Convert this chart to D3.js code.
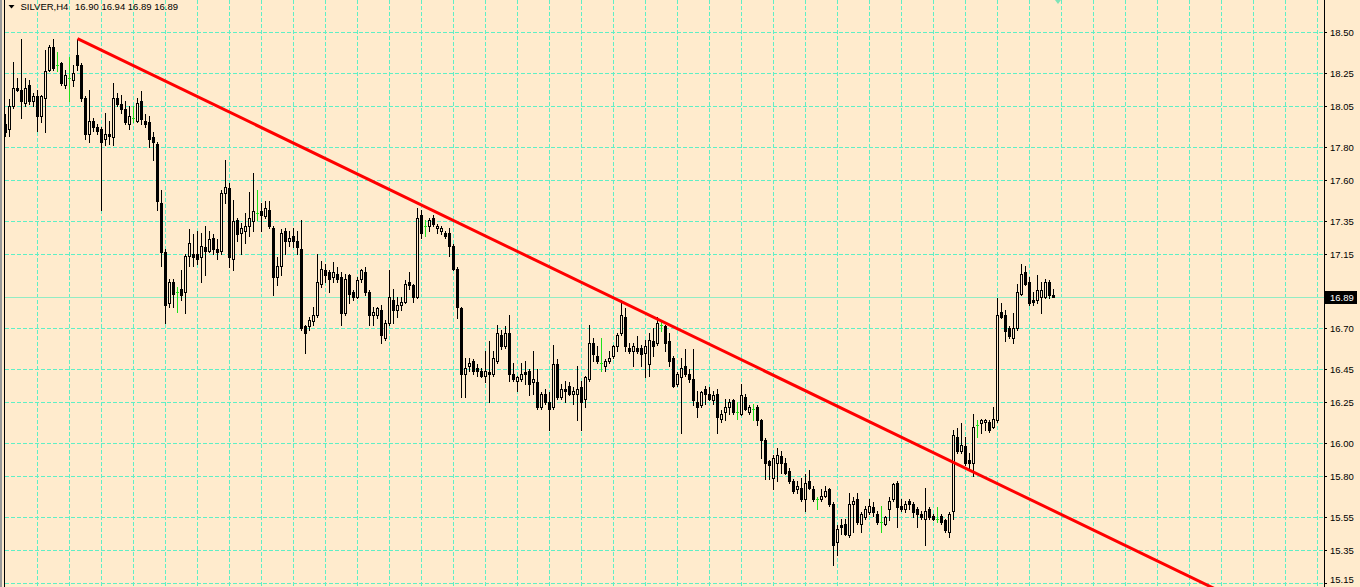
<!DOCTYPE html>
<html><head><meta charset="utf-8">
<script src="https://cdn.jsdelivr.net/npm/d3@7"></script>
<style>html,body{margin:0;padding:0;background:#FFEBCD;overflow:hidden}svg{display:block}</style>
</head><body><svg id="c" width="1360" height="587"></svg>
<script>
const symbol = "SILVER,H4";
const open = [
17.94,17.91,18.05,18.16,18.15,18.07,18.18,18.08,18.11,17.99,
18.10,18.27,18.41,18.30,18.31,18.18,18.22,18.21,18.36,18.30,
18.10,17.88,17.96,17.92,17.91,17.85,17.88,17.86,18.10,18.06,
18.03,17.94,17.98,17.96,18.08,17.96,17.95,17.86,17.82,17.46,
17.16,16.85,16.98,16.92,16.94,16.92,17.14,17.15,17.15,17.13,
17.19,17.17,17.25,17.18,17.17,17.52,17.55,17.12,17.36,17.28,
17.29,17.32,17.35,17.40,17.41,17.38,17.42,17.31,17.01,17.08,
17.29,17.23,17.26,17.23,17.18,16.71,16.71,16.74,16.78,16.97,
17.05,17.04,17.01,17.03,17.01,16.79,17.02,16.92,16.89,17.00,
17.04,16.92,16.78,16.78,16.81,16.64,16.73,16.87,16.81,16.84,
16.86,16.98,16.96,16.89,17.39,17.32,17.32,17.37,17.31,17.29,
17.28,17.28,17.20,17.06,16.82,16.42,16.47,16.50,16.46,16.44,
16.41,16.43,16.42,16.50,16.66,16.59,16.67,16.42,16.38,16.39,
16.43,16.44,16.37,16.37,16.22,16.30,16.25,16.22,16.48,16.28,
16.33,16.35,16.30,16.30,16.34,16.27,16.39,16.61,16.53,16.49,
16.47,16.50,16.53,16.59,16.67,16.77,16.58,16.56,16.58,16.58,
16.55,16.48,16.62,16.61,16.72,16.71,16.62,16.52,16.36,16.40,
16.47,16.42,16.39,16.25,16.23,16.33,16.30,16.26,16.30,16.15,
16.19,16.22,16.26,16.19,16.18,16.28,16.19,16.21,16.22,16.14,
16.02,15.89,15.79,15.88,15.92,15.88,15.83,15.77,15.72,15.73,
15.66,15.77,15.72,15.66,15.66,15.68,15.72,15.63,15.40,15.50,
15.51,15.44,15.63,15.66,15.51,15.55,15.58,15.61,15.57,15.52,
15.51,15.60,15.66,15.76,15.62,15.60,15.65,15.63,15.60,15.57,
15.54,15.60,15.56,15.54,15.56,15.53,15.46,15.59,16.04,15.95,
15.98,15.90,15.88,16.11,16.12,16.13,16.13,16.10,16.14,16.80,
16.78,16.70,16.64,16.70,16.91,17.04,16.98,16.87,16.87,16.89,
16.89,16.98,16.90];
const high = [
18.00,18.09,18.32,18.22,18.46,18.22,18.21,18.13,18.15,18.12,
18.39,18.42,18.46,18.38,18.32,18.27,18.35,18.30,18.46,18.31,
18.11,18.15,17.98,17.94,17.92,18.01,17.96,18.19,18.13,18.12,
18.08,18.05,18.05,18.10,18.14,18.00,17.99,17.89,17.83,17.54,
17.18,17.00,17.00,16.95,17.05,17.15,17.30,17.27,17.29,17.28,
17.32,17.29,17.27,17.24,17.54,17.72,17.58,17.48,17.37,17.34,
17.40,17.53,17.64,17.54,17.46,17.47,17.47,17.32,17.13,17.30,
17.31,17.29,17.31,17.29,17.36,16.72,16.77,16.83,17.15,17.11,
17.09,17.05,17.10,17.07,17.04,17.03,17.03,16.93,17.01,17.06,
17.07,16.93,16.83,16.83,16.84,16.75,17.05,16.94,16.89,16.89,
16.99,17.04,16.97,17.43,17.42,17.36,17.37,17.39,17.33,17.32,
17.29,17.31,17.21,17.07,16.83,16.52,16.52,16.51,16.48,16.46,
16.56,16.62,16.56,16.72,16.69,16.71,16.78,16.49,16.41,16.49,
16.50,16.45,16.56,16.45,16.31,16.33,16.31,16.60,16.51,16.36,
16.38,16.37,16.34,16.47,16.38,16.41,16.72,16.64,16.59,16.64,
16.51,16.56,16.60,16.67,16.87,16.82,16.61,16.61,16.65,16.60,
16.63,16.67,16.70,16.77,16.75,16.72,16.67,16.53,16.43,16.52,
16.57,16.45,16.57,16.32,16.32,16.35,16.34,16.32,16.33,16.20,
16.27,16.27,16.27,16.25,16.36,16.30,16.23,16.24,16.23,16.15,
16.03,15.90,15.93,15.97,15.95,15.91,15.85,15.78,15.77,15.79,
15.81,15.84,15.74,15.67,15.72,15.74,15.73,15.64,15.50,15.54,
15.54,15.70,15.67,15.70,15.58,15.62,15.66,15.64,15.59,15.62,
15.56,15.67,15.76,15.77,15.66,15.65,15.66,15.64,15.61,15.59,
15.73,15.61,15.57,15.61,15.57,15.54,15.58,16.08,16.09,16.12,
16.04,15.94,16.18,16.14,16.15,16.15,16.14,16.22,16.88,16.85,
16.81,16.71,16.79,16.97,17.09,17.08,17.01,16.92,17.02,16.98,
17.00,16.99,16.94];
const low = [
17.87,17.87,18.04,18.14,17.98,18.05,18.06,18.05,17.90,17.95,
17.89,18.26,18.27,18.26,18.18,18.16,18.08,18.17,18.27,18.08,
17.85,17.83,17.90,17.88,17.42,17.81,17.82,17.81,18.05,18.01,
17.94,17.91,17.95,17.95,17.94,17.92,17.80,17.72,17.42,17.08,
16.73,16.83,16.83,16.80,16.87,16.79,17.08,17.08,17.09,16.98,
17.02,17.16,17.15,17.12,17.15,17.46,17.07,17.05,17.23,17.15,
17.22,17.26,17.29,17.36,17.29,17.37,17.31,16.90,16.96,17.02,
17.15,17.20,17.19,17.15,16.69,16.55,16.69,16.72,16.77,16.95,
16.98,16.92,16.98,16.98,16.72,16.78,16.85,16.87,16.88,16.98,
16.90,16.72,16.72,16.76,16.61,16.63,16.72,16.73,16.77,16.81,
16.85,16.94,16.86,16.88,17.25,17.26,17.29,17.32,17.28,17.27,
17.25,17.14,17.05,16.76,16.28,16.28,16.44,16.42,16.41,16.40,
16.37,16.25,16.41,16.49,16.57,16.58,16.38,16.38,16.32,16.38,
16.36,16.29,16.30,16.21,16.21,16.24,16.08,16.21,16.27,16.27,
16.25,16.29,16.24,16.14,16.08,16.22,16.38,16.50,16.49,16.44,
16.44,16.49,16.52,16.56,16.66,16.56,16.55,16.47,16.55,16.47,
16.40,16.41,16.53,16.60,16.68,16.56,16.47,16.34,16.35,16.06,
16.41,16.37,16.23,16.16,16.22,16.24,16.26,16.24,16.06,16.13,
16.14,16.18,16.18,16.15,16.17,16.20,16.18,16.14,16.11,15.91,
15.78,15.78,15.72,15.77,15.82,15.81,15.76,15.70,15.70,15.65,
15.59,15.72,15.65,15.60,15.65,15.67,15.62,15.26,15.32,15.45,
15.44,15.43,15.46,15.51,15.46,15.54,15.57,15.56,15.51,15.46,
15.50,15.53,15.65,15.49,15.59,15.58,15.60,15.55,15.49,15.54,
15.38,15.54,15.53,15.52,15.51,15.46,15.43,15.54,15.94,15.94,
15.87,15.84,15.80,16.04,16.06,16.08,16.07,16.09,16.13,16.76,
16.62,16.64,16.61,16.69,16.90,16.96,16.84,16.84,16.85,16.79,
16.88,16.88,16.89];
const close = [
17.89,18.05,18.16,18.15,18.08,18.16,18.08,18.11,17.99,18.11,
18.26,18.41,18.28,18.30,18.19,18.24,18.22,18.25,18.30,18.10,
17.88,17.96,17.92,17.90,17.83,17.88,17.87,18.10,18.06,18.03,
17.95,17.99,17.98,18.07,17.97,17.94,17.85,17.83,17.47,17.16,
16.84,16.98,16.91,16.92,16.90,17.14,17.22,17.13,17.12,17.20,
17.17,17.24,17.18,17.16,17.52,17.56,17.13,17.35,17.27,17.31,
17.32,17.37,17.41,17.40,17.39,17.43,17.32,17.01,17.08,17.28,
17.23,17.25,17.23,17.19,16.70,16.67,16.75,16.78,16.98,17.06,
17.02,17.00,17.04,17.00,16.79,17.00,16.91,16.89,16.99,17.05,
16.92,16.78,16.80,16.82,16.66,16.73,16.89,16.81,16.84,16.86,
16.97,16.96,16.89,17.37,17.28,17.32,17.36,17.33,17.32,17.31,
17.26,17.20,17.06,16.83,16.42,16.46,16.49,16.44,16.44,16.41,
16.44,16.42,16.52,16.67,16.59,16.67,16.42,16.39,16.40,16.42,
16.42,16.36,16.39,16.22,16.30,16.25,16.21,16.48,16.28,16.33,
16.32,16.30,16.32,16.33,16.25,16.40,16.61,16.54,16.50,16.49,
16.50,16.52,16.59,16.66,16.78,16.59,16.56,16.59,16.56,16.54,
16.59,16.63,16.59,16.73,16.72,16.61,16.50,16.35,16.42,16.46,
16.42,16.39,16.26,16.22,16.31,16.30,16.27,16.29,16.16,16.18,
16.22,16.25,16.19,16.19,16.29,16.21,16.22,16.21,16.14,16.02,
15.88,15.87,15.91,15.93,15.88,15.82,15.77,15.71,15.74,15.66,
15.76,15.73,15.66,15.66,15.68,15.71,15.63,15.38,15.48,15.49,
15.45,15.63,15.65,15.52,15.57,15.60,15.62,15.58,15.52,15.52,
15.55,15.65,15.75,15.61,15.60,15.63,15.63,15.58,15.57,15.55,
15.59,15.55,15.54,15.54,15.52,15.47,15.57,16.05,15.95,15.99,
15.88,15.88,16.10,16.11,16.14,16.14,16.08,16.15,16.78,16.77,
16.68,16.65,16.70,16.92,17.03,16.97,16.85,16.86,16.93,16.93,
16.98,16.90,16.89];
const priceTicks = [18.50,18.25,18.05,17.80,17.60,17.35,17.15,16.70,16.45,16.25,16.00,15.80,15.55,15.35,15.15];
const bidPrice = 16.89;
const trendP1 = [18, 18.46];
const trendP2 = [154, 16.86];
const timeGridStep = 8;

const W = 1360, H = 587, plotLeft = 4, plotRight = 1324;
const BG = "#FFEBCD", GRID = "#5FEFC6", BIDC = "#92ECC4", DOJI = "#1EE11E";
const N = open.length;
const svg = d3.select("#c");
const x = d3.scaleLinear().domain([0, N - 1]).range([5.5, 5.5 + 4 * (N - 1)]);
const y = d3.scaleLinear().domain([15.15, 18.50]).range([583, 32]);
const cy = v => Math.round(y(v)) + 0.5;
const FONT = "'Liberation Sans', Arial, sans-serif";

svg.append("rect").attr("width", W).attr("height", H).attr("fill", BG);
svg.append("rect").attr("x", 0).attr("y", 0).attr("width", 2).attr("height", H).attr("fill", "#9a9a9a");

const grid = svg.append("g").attr("shape-rendering", "crispEdges");
for (let k = timeGridStep; x(k) < plotRight - 2; k += timeGridStep) {
  const gx = Math.floor(x(k)) + 0.5;
  grid.append("line").attr("x1", gx).attr("x2", gx).attr("y1", 0).attr("y2", H)
    .attr("stroke", GRID).attr("stroke-dasharray", "4,2");
}
priceTicks.forEach(v => {
  grid.append("line").attr("x1", plotLeft + 1).attr("x2", plotRight).attr("y1", cy(v)).attr("y2", cy(v))
    .attr("stroke", GRID).attr("stroke-dasharray", "4,2");
});
grid.append("line").attr("x1", plotLeft + 1).attr("x2", plotRight).attr("y1", cy(bidPrice)).attr("y2", cy(bidPrice))
  .attr("stroke", BIDC);

// candles
const data = d3.range(N).map(i => ({i, o: open[i], h: high[i], l: low[i], c: close[i]}));
const cg = svg.append("g").attr("shape-rendering", "crispEdges");
cg.selectAll("line.w").data(data).join("line")
  .attr("x1", d => x(d.i)).attr("x2", d => x(d.i))
  .attr("y1", d => Math.round(y(d.h))).attr("y2", d => Math.round(y(d.l)) + 1)
  .attr("stroke", d => d.o === d.c ? DOJI : "#000");
cg.selectAll("path.b").data(data).join("path")
  .attr("d", d => {
    const cx = x(d.i);
    if (d.o === d.c) { const yy = cy(d.o); return `M${cx - 1.5},${yy}H${cx + 1.5}`; }
    const t = cy(Math.max(d.o, d.c)), b = cy(Math.min(d.o, d.c));
    return `M${cx - 1},${t}H${cx + 1}V${b}H${cx - 1}Z`;
  })
  .attr("fill", d => d.c < d.o ? "#000" : BG)
  .attr("stroke", d => d.o === d.c ? DOJI : "#000");

// trend line
svg.append("clipPath").attr("id", "pc").append("rect").attr("x", plotLeft).attr("y", 0).attr("width", plotRight - plotLeft).attr("height", H);
const slope = (trendP2[1] - trendP1[1]) / (trendP2[0] - trendP1[0]);
const iEnd = x.invert(plotRight);
svg.append("line").attr("clip-path", "url(#pc)")
  .attr("x1", x(trendP1[0])).attr("y1", y(trendP1[1]))
  .attr("x2", x(iEnd)).attr("y2", y(trendP1[1] + slope * (iEnd - trendP1[0])))
  .attr("stroke", "#FF0000").attr("stroke-width", 3);

// borders
svg.append("line").attr("x1", 4.5).attr("x2", 4.5).attr("y1", 0).attr("y2", H).attr("stroke", "#000").attr("shape-rendering", "crispEdges");

// right price axis
const axisG = svg.append("g").attr("transform", `translate(${plotRight},0)`)
  .call(d3.axisRight(y).tickValues(priceTicks).tickSize(3).tickPadding(3).tickFormat(d3.format(".2f")));
axisG.select(".domain").remove();
axisG.selectAll(".tick").attr("transform", d => `translate(0,${cy(d)})`);
axisG.selectAll(".tick line").attr("stroke", "#000").attr("shape-rendering", "crispEdges");
axisG.selectAll(".tick text").attr("font-family", FONT).attr("font-size", "9.5px").attr("fill", "#000")
  .attr("dy", d => cy(d) + 5 > H - 1 ? "-0.05em" : "0.34em");
svg.append("line").attr("x1", plotRight + 0.5).attr("x2", plotRight + 0.5).attr("y1", 0).attr("y2", H)
  .attr("stroke", "#000").attr("shape-rendering", "crispEdges");

// bid label
const by = cy(bidPrice);
svg.append("rect").attr("x", plotRight + 1).attr("y", by - 6.5).attr("width", 32).attr("height", 13).attr("fill", "#000");
svg.append("text").attr("x", plotRight + 6).attr("y", by).attr("dy", "0.34em")
  .attr("font-family", FONT).attr("font-size", "9.5px").attr("fill", "#fff").text(d3.format(".2f")(bidPrice));

// title
svg.append("path").attr("d", "M8.5,5H14.5L11.5,8.5Z").attr("fill", "#000");
svg.append("text").attr("x", 20.5).attr("y", 10).attr("font-family", FONT).attr("font-size", "9.5px").attr("fill", "#000").text(symbol);
const last = N - 1, f2 = d3.format(".2f");
svg.append("text").attr("x", 75).attr("y", 10).attr("font-family", FONT).attr("font-size", "9.5px").attr("fill", "#000")
  .text([open[last], high[last], low[last], close[last]].map(f2).join(" "));

// small marker at top
svg.append("path").attr("d", "M1055,0H1061L1058,4Z").attr("fill", "#7FE3B8");
</script></body></html>
